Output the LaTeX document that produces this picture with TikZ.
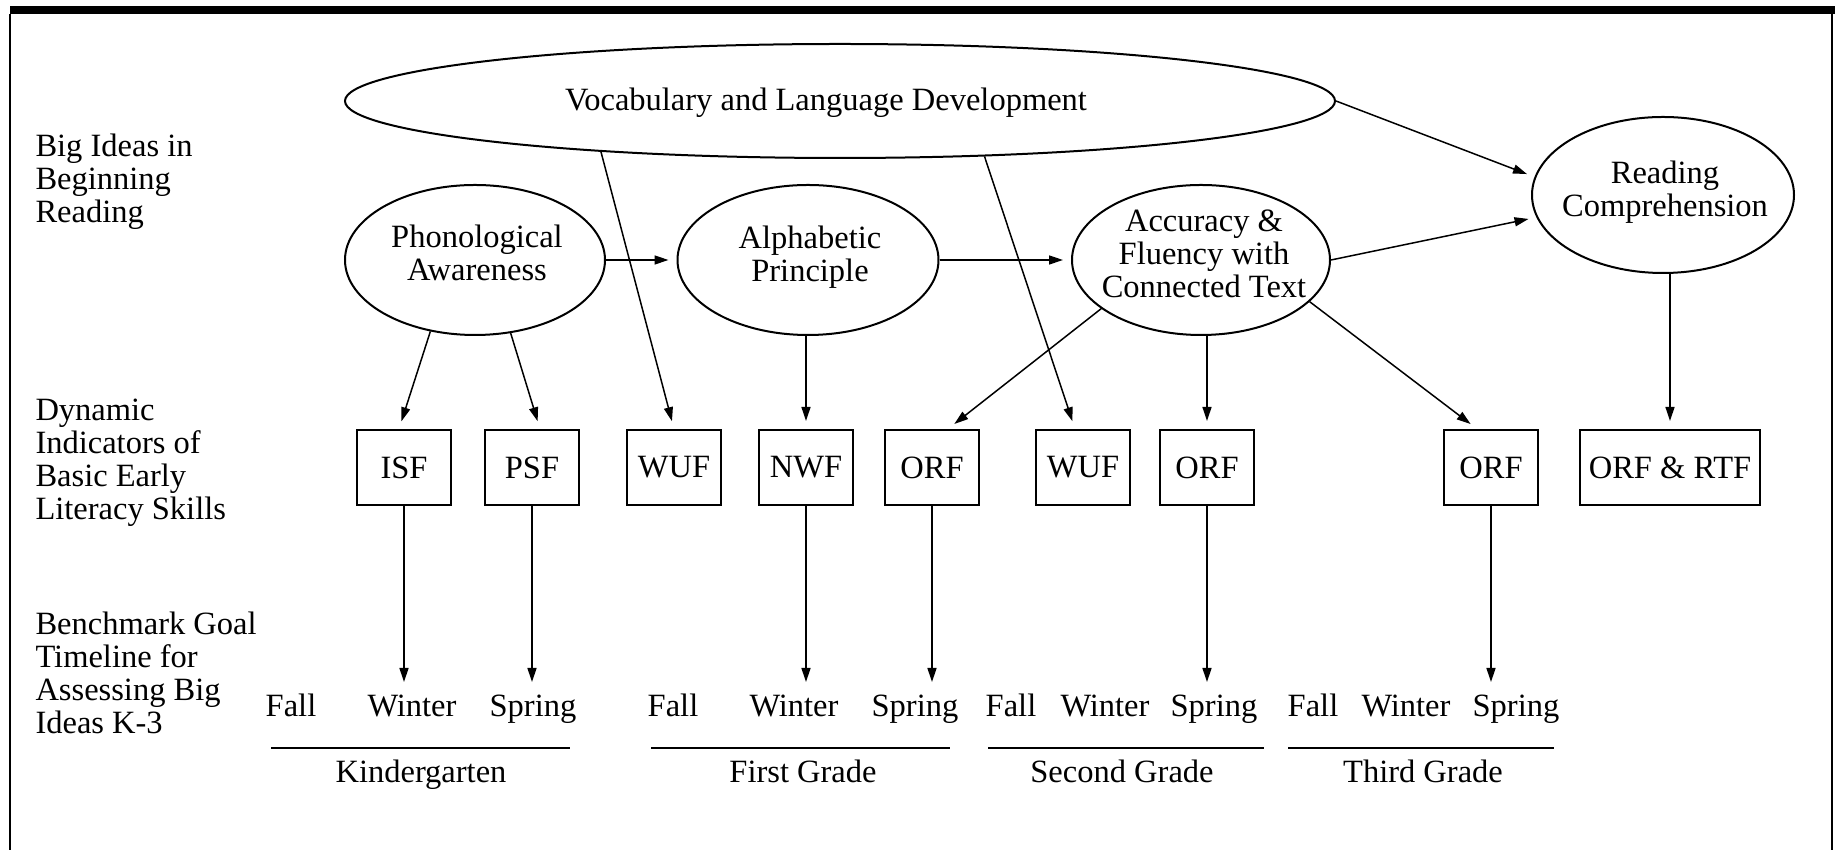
\documentclass[tikz,border=0pt]{standalone}
\usepackage{fontspec}
\setmainfont{Liberation Serif}
\usetikzlibrary{shapes.geometric,arrows.meta,calc}

\tikzset{
  bigidea/.style={draw,ellipse,line width=0.8pt,inner sep=0pt},
  ideatext/.style={inner sep=0pt,align=center},
  measure/.style={draw,line width=0.85pt,minimum width=37.6pt,minimum height=30pt,inner sep=0pt},
  sidelabel/.style={anchor=north west,inner sep=0pt,align=left},
  season/.style={anchor=base,inner sep=2pt},
  grade/.style={anchor=base,inner sep=0pt},
  link/.style={line width=0.6pt,-{Triangle[length=5.6pt,width=3.6pt]},shorten >=3.2pt},
}

\begin{document}
\begin{tikzpicture}[x=0.4pt,y=0.4pt,yscale=-1,xscale=1,font=\fontsize{13}{13.3}\selectfont]
\useasboundingbox (0,0) rectangle (1835,850);

%Frame
\fill (10,6) rectangle (1835,14);
\draw [line width=1pt] (10,14) -- (10,850);
\draw [line width=1pt] (1832,14) -- (1832,850);

% Text Node
\node [sidelabel] (rowideas) at (35,133) {Big Ideas in\\Beginning\\Reading};
% Text Node
\node [sidelabel] (rowdibels) at (35,398) {Dynamic\\Indicators of\\Basic Early\\Literacy Skills};
% Text Node
\node [sidelabel] (rowtime) at (35,611) {Benchmark Goal\\Timeline for\\Assessing Big\\Ideas K-3};

%Shape: Ellipse
\node [bigidea,minimum width=396pt,minimum height=45.6pt] (vocab) at (840,101) {};
\node [ideatext] (vocabT) at (826,103) {Vocabulary and Language Development};
%Shape: Ellipse
\node [bigidea,minimum width=104pt,minimum height=60pt] (phono) at (475,260) {};
\node [ideatext] (phonoT) at (477,253) {Phonological\\Awareness};
%Shape: Ellipse
\node [bigidea,minimum width=104.4pt,minimum height=60pt] (alpha) at (808,260) {};
\node [ideatext] (alphaT) at (810,257) {Alphabetic\\Principle};
%Shape: Ellipse
\node [bigidea,minimum width=103.2pt,minimum height=60pt] (acc) at (1201,260) {};
\node [ideatext] (accT) at (1204,254) {Accuracy \&\\Fluency with\\Connected Text};
%Shape: Ellipse
\node [bigidea,minimum width=104.8pt,minimum height=62.4pt] (readc) at (1663,195) {};
\node [ideatext] (readcT) at (1665,192) {Reading\\Comprehension};

%Shape: Rectangle
\node [measure] (isf) at (404,467.5) {ISF};
\node [measure] (psf) at (532,467.5) {PSF};
\node [measure] (wufA) at (674,467.5) {WUF};
\node [measure] (nwf) at (806,467.5) {NWF};
\node [measure] (orfA) at (932,467.5) {ORF};
\node [measure] (wufB) at (1083,467.5) {WUF};
\node [measure] (orfB) at (1207,467.5) {ORF};
\node [measure] (orfC) at (1491,467.5) {ORF};
\node [measure,minimum width=72pt] (rtf) at (1670,467.5) {ORF \& RTF};

% Text Node
\node [season] (fallK) at (291,717) {Fall};
\node [season] (winK) at (412,717) {Winter};
\node [season] (sprK) at (533,717) {Spring};
\node [season] (fallA) at (673,717) {Fall};
\node [season] (winA) at (794,717) {Winter};
\node [season] (sprA) at (915,717) {Spring};
\node [season] (fallB) at (1011,717) {Fall};
\node [season] (winB) at (1105,717) {Winter};
\node [season] (sprB) at (1214,717) {Spring};
\node [season] (fallC) at (1313,717) {Fall};
\node [season] (winC) at (1406,717) {Winter};
\node [season] (sprC) at (1516,717) {Spring};

%Straight Lines
\draw [line width=0.8pt] (271,748) -- (570,748);
\draw [line width=0.8pt] (651,748) -- (950,748);
\draw [line width=0.8pt] (988,748) -- (1264,748);
\draw [line width=0.8pt] (1288,748) -- (1554,748);

% Text Node
\node [grade] (gradeK) at (421,783) {Kindergarten};
\node [grade] (gradeA) at (803,783) {First Grade};
\node [grade] (gradeB) at (1122,783) {Second Grade};
\node [grade] (gradeC) at (1423,783) {Third Grade};

%Straight Lines
\draw [link] (phono.238) -- ($(isf.north)+(-5,0)$);
\draw [link] (phono.296) -- ($(psf.north)+(8,0)$);
\draw [link] (vocab.192.8) -- (wufA.north);
\draw [link] (vocab.339.1) -- ($(wufB.north)+(-8,0)$);
\draw [link] (phono.east) -- (alpha.west);
\draw [link] (alpha.east) -- (acc.west);
\draw [link] (nwf.north |- alpha.south) -- (nwf.north);
\draw [link] (acc.206.6) -- ($(orfA.north)+(16,0)$);
\draw [link] (orfB.north |- acc.south) -- (orfB.north);
\draw [link] (acc.339.6) -- ($(orfC.north)+(-14,0)$);
\draw [link] (acc.east) -- (readc.190);
\draw [link] (vocab.-0.8) -- (readc.172);
\draw [link] (rtf.north |- readc.south) -- (rtf.north);

%Straight Lines
\draw [link] (isf.south) -- (isf.south |- winK.north);
\draw [link] (psf.south) -- (psf.south |- sprK.north);
\draw [link] (nwf.south) -- (nwf.south |- winA.north);
\draw [link] (orfA.south) -- (orfA.south |- sprA.north);
\draw [link] (orfB.south) -- (orfB.south |- sprB.north);
\draw [link] (orfC.south) -- (orfC.south |- sprC.north);

\end{tikzpicture}
\end{document}
